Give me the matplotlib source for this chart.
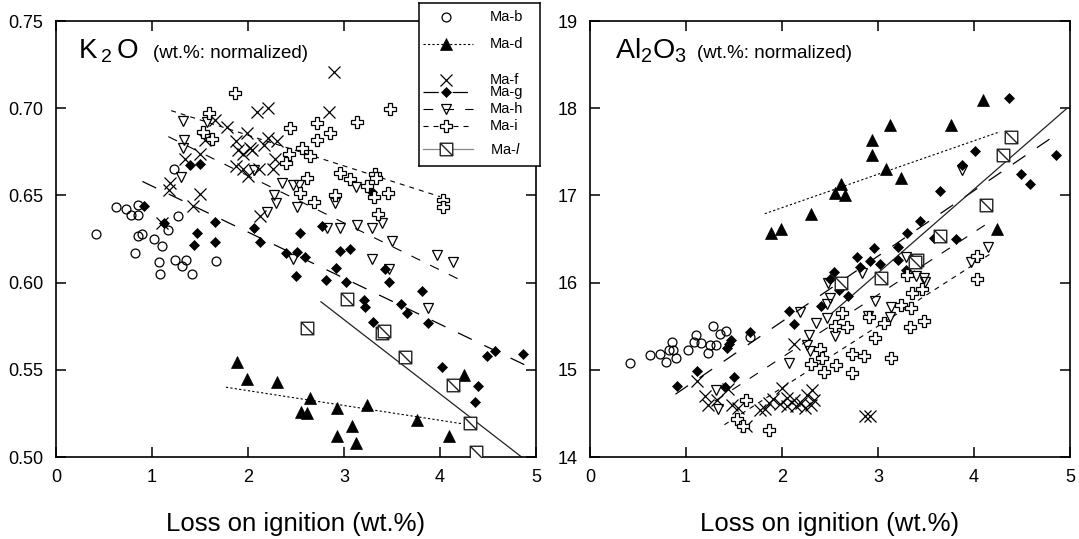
import matplotlib
matplotlib.use('Agg')
import matplotlib.pyplot as plt
from matplotlib.path import Path

plt.rcParams['font.family'] = ['Liberation Sans', 'DejaVu Sans']
plt.rcParams['mathtext.fontset'] = 'custom'
plt.rcParams['mathtext.rm'] = 'Liberation Sans'
plt.rcParams['mathtext.it'] = 'Liberation Sans:italic'
plt.rcParams['lines.scale_dashes'] = False

# ---- K2O panel data (wt.%) ----
k2o_b_x = [0.42, 0.63, 0.73, 0.78, 0.85, 0.85, 0.85, 0.90, 0.82, 1.02, 1.10, 1.07, 1.08, 1.24, 1.31, 1.35, 1.42, 1.17, 1.27, 1.23, 1.67]
k2o_b_y = [0.628, 0.6435, 0.642, 0.639, 0.639, 0.6445, 0.627, 0.628, 0.617, 0.625, 0.621, 0.612, 0.605, 0.613, 0.6095, 0.613, 0.605, 0.630, 0.638, 0.665, 0.6125]
k2o_d_x = [1.89, 1.99, 2.30, 2.65, 2.55, 2.61, 2.93, 3.24, 3.08, 2.93, 3.12, 3.76, 4.09, 4.25]
k2o_d_y = [0.5547, 0.545, 0.543, 0.534, 0.526, 0.525, 0.528, 0.530, 0.518, 0.512, 0.508, 0.521, 0.512, 0.547]
k2o_f_x = [1.10, 1.19, 1.18, 1.34, 1.43, 1.50, 1.50, 1.55, 1.66, 1.78, 1.88, 1.90, 1.95, 1.88, 1.95, 2.00, 1.99, 2.04, 2.09, 2.21, 2.21, 2.30, 2.28, 2.11, 2.26, 2.12, 2.90, 2.84, 2.17, 2.02]
k2o_f_y = [0.634, 0.657, 0.653, 0.671, 0.644, 0.651, 0.674, 0.682, 0.693, 0.689, 0.681, 0.676, 0.674, 0.667, 0.665, 0.661, 0.686, 0.676, 0.698, 0.700, 0.683, 0.681, 0.671, 0.665, 0.665, 0.638, 0.721, 0.698, 0.679, 0.677]
k2o_g_x = [0.92, 1.40, 1.50, 1.12, 1.66, 1.47, 1.44, 1.66, 2.06, 2.12, 2.54, 2.40, 2.51, 2.59, 2.50, 2.77, 2.96, 3.06, 2.92, 2.81, 3.02, 3.29, 3.43, 3.47, 3.81, 3.21, 3.22, 3.59, 3.66, 3.30, 3.88, 4.49, 4.57, 4.86, 4.02, 4.40, 4.36]
k2o_g_y = [0.644, 0.6674, 0.668, 0.634, 0.635, 0.6286, 0.6216, 0.623, 0.6315, 0.6234, 0.6283, 0.6168, 0.6177, 0.6149, 0.6038, 0.6326, 0.6183, 0.6193, 0.6082, 0.6015, 0.6002, 0.6518, 0.6076, 0.6002, 0.5954, 0.590, 0.5862, 0.5876, 0.5824, 0.5772, 0.577, 0.5581, 0.5609, 0.5591, 0.5518, 0.5407, 0.5314]
k2o_h_x = [1.32, 1.57, 1.33, 1.32, 1.30, 2.06, 2.35, 2.47, 2.53, 2.27, 2.29, 2.51, 2.20, 2.47, 2.82, 2.96, 3.14, 3.29, 3.40, 3.50, 3.29, 3.13, 2.91, 3.97, 4.14, 3.47, 3.88]
k2o_h_y = [0.6927, 0.692, 0.6818, 0.677, 0.6604, 0.6646, 0.6573, 0.656, 0.656, 0.650, 0.6455, 0.6435, 0.6407, 0.6134, 0.6311, 0.6311, 0.633, 0.6311, 0.634, 0.624, 0.6135, 0.655, 0.6455, 0.6158, 0.612, 0.6076, 0.5855]
k2o_i_x = [1.86, 1.59, 1.53, 1.62, 2.44, 2.56, 2.43, 2.40, 2.61, 2.54, 2.72, 2.85, 2.72, 3.14, 3.48, 2.65, 2.96, 3.06, 3.24, 3.32, 3.33, 3.46, 3.31, 2.69, 2.91, 3.35, 4.03, 4.03]
k2o_i_y = [0.7085, 0.6974, 0.6865, 0.6823, 0.6885, 0.677, 0.6736, 0.6688, 0.6598, 0.6516, 0.6917, 0.686, 0.6818, 0.6923, 0.6995, 0.6726, 0.663, 0.6592, 0.6554, 0.6623, 0.6598, 0.6516, 0.6489, 0.6464, 0.6502, 0.6393, 0.6474, 0.6435]
k2o_l_x = [3.03, 2.61, 3.40, 3.42, 3.64, 4.14, 4.31, 4.38]
k2o_l_y = [0.5904, 0.5738, 0.571, 0.572, 0.5575, 0.5413, 0.5193, 0.503]

# trend lines (end points)
k2o_line_d = ([1.77, 4.24], [0.540, 0.519])
k2o_line_g = ([0.90, 4.99], [0.658, 0.550])
k2o_line_h = ([1.17, 4.23], [0.6837, 0.601])
k2o_line_i = ([1.20, 4.00], [0.6986, 0.6493])
k2o_line_l = ([2.76, 4.85], [0.589, 0.500])

# ---- Al2O3 panel data (wt.%) ----
al_b_x = [0.42, 0.63, 0.73, 0.79, 0.82, 0.85, 0.86, 0.90, 1.02, 1.08, 1.10, 1.16, 1.25, 1.23, 1.31, 1.28, 1.35, 1.42, 1.67]
al_b_y = [15.08, 15.17, 15.18, 15.09, 15.23, 15.32, 15.23, 15.13, 15.23, 15.32, 15.40, 15.31, 15.29, 15.19, 15.29, 15.50, 15.41, 15.44, 15.38]
al_d_x = [4.09, 3.13, 3.76, 2.94, 2.94, 3.08, 3.24, 2.61, 2.55, 2.66, 2.30, 1.89, 1.99, 4.24]
al_d_y = [18.09, 17.81, 17.81, 17.63, 17.46, 17.30, 17.20, 17.13, 17.03, 17.00, 16.79, 16.57, 16.61, 16.62]
al_f_x = [1.11, 1.20, 1.32, 1.23, 1.44, 1.48, 1.54, 1.63, 1.77, 1.82, 1.86, 1.91, 1.98, 2.00, 2.05, 2.05, 2.12, 2.15, 2.20, 2.24, 2.26, 2.31, 2.33, 2.30, 2.13, 2.86, 2.92]
al_f_y = [14.87, 14.70, 14.65, 14.60, 14.78, 14.60, 14.56, 14.35, 14.54, 14.55, 14.62, 14.67, 14.61, 14.79, 14.58, 14.68, 14.65, 14.58, 14.62, 14.56, 14.71, 14.77, 14.65, 14.60, 15.30, 14.47, 14.47]
al_g_x = [0.91, 1.11, 1.50, 1.41, 1.43, 1.45, 1.47, 1.67, 2.07, 2.12, 2.41, 2.54, 2.50, 2.59, 2.69, 2.78, 2.81, 2.92, 2.96, 3.02, 3.21, 3.21, 3.30, 3.29, 3.44, 3.58, 3.81, 4.36, 4.01, 3.87, 3.65, 4.49, 4.58, 4.85]
al_g_y = [14.81, 14.99, 14.92, 14.80, 15.25, 15.30, 15.34, 15.43, 15.67, 15.52, 15.73, 16.12, 16.04, 15.92, 15.85, 16.29, 16.18, 16.25, 16.40, 16.21, 16.26, 16.41, 16.57, 16.14, 16.71, 16.51, 16.50, 18.12, 17.51, 17.35, 17.05, 17.25, 17.13, 17.46]
al_h_x = [1.31, 1.33, 2.19, 2.07, 2.35, 2.28, 2.26, 2.29, 2.47, 2.55, 2.47, 2.48, 2.50, 2.83, 2.97, 2.90, 3.14, 3.13, 3.29, 3.40, 3.48, 3.49, 3.88, 4.15, 3.97]
al_h_y = [14.77, 14.55, 15.66, 15.08, 15.54, 15.40, 15.28, 15.21, 15.59, 15.39, 15.75, 15.99, 15.82, 16.11, 15.79, 15.62, 15.72, 15.61, 16.29, 16.07, 16.05, 16.01, 17.29, 16.41, 16.24]
al_i_x = [1.63, 1.53, 1.59, 1.86, 2.40, 2.42, 2.30, 2.44, 2.56, 2.62, 2.55, 2.68, 2.73, 2.73, 2.85, 2.97, 2.91, 3.06, 3.14, 3.33, 3.48, 3.24, 3.34, 3.35, 3.46, 3.30, 4.03, 4.03]
al_i_y = [14.65, 14.44, 14.35, 14.31, 15.24, 15.14, 15.07, 14.98, 15.06, 15.65, 15.50, 15.49, 15.18, 14.96, 15.16, 15.37, 15.61, 15.54, 15.13, 15.49, 15.56, 15.74, 15.71, 15.88, 15.93, 16.09, 16.31, 16.04]
al_l_x = [4.39, 4.30, 4.13, 3.65, 3.41, 3.39, 3.03, 2.61]
al_l_y = [17.67, 17.46, 16.89, 16.53, 16.26, 16.24, 16.05, 16.00]

al_line_d = ([1.82, 4.27], [16.79, 17.73])
al_line_g = ([0.89, 4.90], [14.72, 17.73])
al_line_h = ([1.30, 4.17], [14.64, 16.70])
al_line_i = ([1.40, 4.20], [14.37, 16.35])
al_line_l = ([2.52, 4.97], [15.65, 18.00])

samples = ['Ma-b', 'Ma-d', 'Ma-f', 'Ma-g', 'Ma-h', 'Ma-i', r'Ma-$\mathit{l}$']

# square with a diagonal (Ma-l)
sq_diag = Path([(-1, -1), (1, -1), (1, 1), (-1, 1), (-1, -1), (-1, 1), (1, -1)],
               [Path.MOVETO, Path.LINETO, Path.LINETO, Path.LINETO, Path.CLOSEPOLY,
                Path.MOVETO, Path.LINETO])

mk = {
    'b': dict(marker='o', ms=6.4, mfc='none', mec='k', mew=0.9),
    'd': dict(marker='^', ms=8, mfc='k', mec='k', mew=0.5),
    'f': dict(marker='x', ms=8, mec='k', mew=0.9),
    'g': dict(marker='D', ms=5, mfc='k', mec='k', mew=0.5),
    'h': dict(marker='v', ms=7.5, mfc='none', mec='k', mew=0.9),
    'i': dict(marker='P', ms=8.5, mfc='w', mec='k', mew=0.9),
    'l': dict(marker=sq_diag, ms=9, mfc='w', mec='#222222', mew=1.0),
}
ls = {
    'd': dict(color='k', lw=0.8, dashes=(1.6, 1.6)),
    'g': dict(color='k', lw=0.9, dashes=(11, 10)),
    'h': dict(color='k', lw=0.8, dashes=(7, 8)),
    'i': dict(color='k', lw=0.8, dashes=(3.6, 3.6)),
    'l': dict(color='#222222', lw=0.9, linestyle='-'),
}

W, H = 1079, 539
fig = plt.figure(figsize=(W / 100, H / 100), dpi=100)
ax1 = fig.add_axes([56 / W, 1 - 457 / H, 480 / W, 436 / H])
ax2 = fig.add_axes([590 / W, 1 - 457 / H, 480 / W, 436 / H])

panels = [
    (ax1, {'b': (k2o_b_x, k2o_b_y), 'd': (k2o_d_x, k2o_d_y), 'f': (k2o_f_x, k2o_f_y),
           'g': (k2o_g_x, k2o_g_y), 'h': (k2o_h_x, k2o_h_y), 'i': (k2o_i_x, k2o_i_y),
           'l': (k2o_l_x, k2o_l_y)},
     {'d': k2o_line_d, 'g': k2o_line_g, 'h': k2o_line_h, 'i': k2o_line_i, 'l': k2o_line_l}),
    (ax2, {'b': (al_b_x, al_b_y), 'd': (al_d_x, al_d_y), 'f': (al_f_x, al_f_y),
           'g': (al_g_x, al_g_y), 'h': (al_h_x, al_h_y), 'i': (al_i_x, al_i_y),
           'l': (al_l_x, al_l_y)},
     {'d': al_line_d, 'g': al_line_g, 'h': al_line_h, 'i': al_line_i, 'l': al_line_l}),
]

for ax, pts, lines in panels:
    for key, (lx, ly) in lines.items():
        ax.plot(lx, ly, zorder=2, **ls[key])
    for key, (px, py) in pts.items():
        ax.plot(px, py, linestyle='none', zorder=3, **mk[key])
    ax.set_xlim(0, 5)
    ax.set_xticks(range(6))
    ax.tick_params(direction='in', length=7, width=1.1, top=True, right=True,
                   labelsize=13, pad=9)
    for s in ax.spines.values():
        s.set_linewidth(1.2)
    ax.set_xlabel('Loss on ignition (wt.%)', fontsize=18.5, labelpad=18)

ax1.set_ylim(0.50, 0.75)
ax1.set_yticks([0.50, 0.55, 0.60, 0.65, 0.70, 0.75])
ax1.set_yticklabels(['0.50', '0.55', '0.60', '0.65', '0.70', '0.75'])
ax2.set_ylim(14, 19)
ax2.set_yticks(range(14, 20))

# panel titles
ax1.text(0.046, 0.915, r'$\mathregular{K\,_2\,O}$', transform=ax1.transAxes, fontsize=20, va='baseline')
ax1.text(0.202, 0.915, '(wt.%: normalized)', transform=ax1.transAxes, fontsize=13.5, va='baseline')
ax2.text(0.052, 0.915, r'$\mathregular{Al_2O_3}$', transform=ax2.transAxes, fontsize=20.5, va='baseline')
ax2.text(0.223, 0.915, '(wt.%: normalized)', transform=ax2.transAxes, fontsize=13.5, va='baseline')

# legend box drawn by hand so the row spacing matches
lax = fig.add_axes([419 / W, 1 - 166 / H, 121 / W, 163 / H])
lax.set_xlim(0, 121)
lax.set_ylim(163, 0)
lax.set_xticks([])
lax.set_yticks([])
for s in lax.spines.values():
    s.set_linewidth(1.1)
rows = [14, 41, 77, 89, 106, 123, 146]
keys = ['b', 'd', 'f', 'g', 'h', 'i', 'l']
for key, yy, name in zip(keys, rows, samples):
    if key in ls:
        st = dict(ls[key])
        if key == 'l':
            st['color'] = '#888888'
        lax.plot([4, 54], [yy, yy], **st)
    lax.plot([27], [yy], linestyle='none', **mk[key])
    lax.text(71, yy, name, fontsize=10.5, va='center')

plt.savefig('out.png', dpi=100)
